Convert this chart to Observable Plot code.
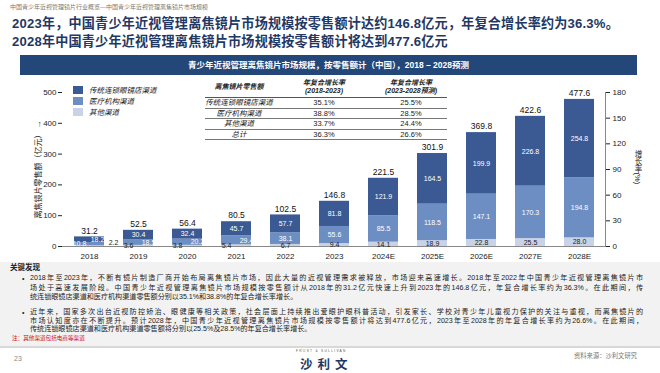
<!DOCTYPE html>
<html><head><meta charset="utf-8">
<script src="https://cdn.jsdelivr.net/npm/d3@7"></script>
<script src="https://cdn.jsdelivr.net/npm/@observablehq/plot@0.6"></script>
<style>
body{margin:0;width:660px;height:373px;position:relative;overflow:hidden;background:#fff;font-family:"Liberation Sans","Noto Sans CJK SC",sans-serif;color:#222;}
.abs{position:absolute;}
#hdr{left:10px;top:2px;font-size:6px;color:#777;white-space:nowrap;}
.title{left:12px;font-size:13.1px;font-weight:bold;color:#1f3864;white-space:nowrap;letter-spacing:0.2px;}
#banner{left:20px;top:55px;width:617px;height:20px;background:#24477a;color:#fff;font-size:8.5px;font-weight:bold;text-align:center;line-height:20px;}
#chart{left:0;top:75px;}
#legend{left:73px;top:84px;font-size:7.5px;font-style:italic;}
#legend .it{display:flex;align-items:center;height:11px;}
#legend .sw{width:10px;height:8px;margin-right:6px;}
#tbl{left:205px;top:79px;border-collapse:collapse;font-size:7.5px;}
#tbl td{padding:0;height:9.6px;line-height:9.6px;text-align:center;border-bottom:1px solid #777;}
#tbl th{padding:0;font-size:7px;font-weight:bold;font-style:italic;line-height:8px;border-bottom:1px solid #555;padding-bottom:2px;}
#tbl td.c1{font-style:italic;}
#find{left:0;top:262px;width:660px;height:84px;background:#f2f2f2;}
#kf{left:10px;top:263px;font-size:7.5px;line-height:9px;font-weight:bold;}
.bul{left:22px;font-size:7px;line-height:9px;}
.ln{position:absolute;left:30px;width:613px;font-size:7.1px;line-height:9px;text-align:justify;text-align-last:justify;}
.ln.last{text-align-last:left;}
#note{left:12px;top:334px;font-size:5.6px;color:#d0101a;}
#fline{left:0;top:346px;width:660px;height:2px;background:#d8d8d8;}
#page{left:14px;top:355px;font-size:7px;color:#888;}
#logo1{left:296px;top:349px;font-size:3.2px;letter-spacing:1.3px;color:#555;white-space:nowrap;}
#logo2{left:300px;top:354px;font-size:12.5px;font-weight:bold;color:#1f3864;letter-spacing:5px;white-space:nowrap;}
#src{left:574px;top:351px;font-size:6.3px;color:#777;white-space:nowrap;}
#rlab{left:632px;top:150px;writing-mode:vertical-rl;font-size:7.5px;}
</style></head>
<body>
<div id="hdr" class="abs">中国青少年近视管理镜片行业概览—中国青少年近视管理离焦镜片市场规模</div>
<div class="abs title" style="top:13px">2023年，中国青少年近视管理离焦镜片市场规模按零售额计达约146.8亿元，年复合增长率约为36.3%。</div>
<div class="abs title" style="top:31px">2028年中国青少年近视管理离焦镜片市场规模按零售额计将达到477.6亿元</div>
<div id="banner" class="abs">青少年近视管理离焦镜片市场规模，按零售额计（中国），2018 – 2028预测</div>
<div id="chart" class="abs"></div>
<div id="legend" class="abs"></div>
<table id="tbl" class="abs"></table>
<div id="rlab" class="abs">增长率(%)</div>
<div id="find" class="abs"></div>
<div id="kf" class="abs">关键发现</div>
<div class="abs bul" style="top:274px">•</div>
<div class="ln" style="top:274px">2018年至2023年，不断有镜片制造厂商开始布局离焦镜片市场，因此大量的近视管理需求被释放，市场迎来高速增长。2018年至2022年中国青少年近视管理离焦镜片市</div>
<div class="ln" style="top:283.5px">场处于高速发展阶段。中国青少年近视管理离焦镜片市场规模按零售额计从2018年的31.2亿元快速上升到2023年的146.8亿元，年复合增长率约为36.3%。在此期间，传</div>
<div class="ln last" style="top:292.5px">统连锁眼镜店渠道和医疗机构渠道零售额分别以35.1%和38.8%的年复合增长率增长。</div>
<div class="abs bul" style="top:308px">•</div>
<div class="ln" style="top:308px">近年来，国家多次出台近视防控矫治、眼健康等相关政策，社会层面上持续推出爱眼护眼科普活动，引发家长、学校对青少年儿童视力保护的关注与重视，而离焦镜片的</div>
<div class="ln" style="top:316.5px">市场认知度亦在不断提升。预计2028年，中国青少年近视管理离焦镜片市场规模按零售额计将达到477.6亿元，2023年至2028年的年复合增长率约为26.6%。在此期间，</div>
<div class="ln last" style="top:325px">传统连锁眼镜店渠道和医疗机构渠道零售额将分别以25.5%及28.5%的年复合增长率增长。</div>
<div id="note" class="abs">注：其他渠道包括电商等渠道</div>
<div id="fline" class="abs"></div>
<div id="page" class="abs">23</div>
<div id="logo1" class="abs">FROST &amp; SULLIVAN</div>
<div id="logo2" class="abs">沙利文</div>
<div id="src" class="abs">资料来源：沙利文研究</div>
<script>
const years = ["2018","2019","2020","2021","2022","2023","2024E","2025E","2026E","2027E","2028E"];
const chainSales = [18.2,30.4,32.4,45.7,57.7,81.8,121.9,164.5,199.9,226.8,254.8];
const medicalSales = [10.8,18.5,20.2,29.4,38.1,55.6,85.5,118.5,147.1,170.3,194.8];
const otherSales = [2.2,3.6,3.8,5.4,6.7,9.4,14.1,18.9,22.8,25.5,28.0];
const totalSales = [31.2,52.5,56.4,80.5,102.5,146.8,221.5,301.9,369.8,422.6,477.6];
const channels = ["传统连锁眼镜店渠道","医疗机构渠道","其他渠道"];
const channelColors = ["#3b5a93","#6d8ec3","#c8d3e8"];
const leftTicks = [0,100,200,300,400,500];
const rightTicks = [0,30,60,90,120,150,180];
const tableHead = ["离焦镜片零售额","年复合增长率<br>(2018-2023)","年复合增长率<br>(2023-2028预测)"];
const tableRows = ["传统连锁眼镜店渠道","医疗机构渠道","其他渠道","总计"];
const cagrHist = ["35.1%","38.8%","33.7%","36.3%"];
const cagrFcst = ["25.5%","28.5%","24.4%","26.6%"];

const rows = [];
years.forEach((year, i) => {
  let base = 0;
  [[channels[2], otherSales[i]], [channels[1], medicalSales[i]], [channels[0], chainSales[i]]].forEach(([channel, value]) => {
    rows.push({year, i, channel, value, mid: base + value / 2});
    base += value;
  });
});
const totals = years.map((year, i) => ({year, total: totalSales[i]}));
const fmt = d => d.value.toFixed(1);
const lab = (filter, opts) => Plot.text(rows, {x: "year", y: "mid", text: fmt, filter, fontSize: 7, ...opts});

const chart = Plot.plot({
  width: 660, height: 190,
  marginLeft: 62, marginRight: 55, marginTop: 17, marginBottom: 19,
  style: {fontFamily: "'Liberation Sans','Noto Sans CJK SC',sans-serif", fontSize: "8px", color: "#222", background: "transparent"},
  x: {domain: years, paddingInner: 0.39, paddingOuter: 0.23, label: null},
  y: {domain: [0, 500], label: null},
  color: {domain: channels, range: channelColors},
  marks: [
    Plot.barY(rows, {x: "year", y: "value", fill: "channel"}),
    Plot.ruleY([0], {stroke: "#888"}),
    Plot.frame({anchor: "right", stroke: "#888"}),
    Plot.axisY({anchor: "left", ticks: leftTicks, tickSize: 4, tickPadding: 2, label: "离焦镜片零售额（亿元）", labelAnchor: "center", labelOffset: 27, fontSize: 8}),
    Plot.axisY(rightTicks.map(v => v * 500 / 180), {anchor: "right", tickSize: 4, tickPadding: 3, tickFormat: v => Math.round(v * 180 / 500), label: null, fontSize: 8}),
    Plot.axisX({tickSize: 0, tickPadding: 7, label: null, fontSize: 8}),
    Plot.text(totals, {x: "year", y: "total", text: d => d.total.toFixed(1), dy: -6, fontSize: 8.5, fill: "#111"}),
    lab(d => d.channel === channels[0] && d.i >= 1, {fill: "#fff"}),
    lab(d => d.channel === channels[1] && d.i >= 4, {fill: "#fff"}),
    lab(d => d.channel === channels[2] && d.i >= 4, {fill: "#222"}),
    lab(d => d.channel === channels[1] && d.i >= 1 && d.i <= 3, {fill: "#fff", dx: 10}),
    lab(d => d.channel === channels[2] && d.i >= 1 && d.i <= 3, {fill: "#222", dx: -10}),
    lab(d => d.channel === channels[1] && d.i === 0, {fill: "#fff", dx: -10}),
    lab(d => d.channel === channels[0] && d.i === 0, {fill: "#fff", dx: 8}),
    lab(d => d.channel === channels[2] && d.i === 0, {fill: "#222", dx: 24, dy: -3})
  ]
});
document.getElementById("chart").appendChild(chart);

const legend = document.getElementById("legend");
channels.forEach((c, k) => {
  const it = document.createElement("div"); it.className = "it";
  it.innerHTML = `<span class="sw" style="background:${channelColors[k]}"></span><span>${c}</span>`;
  legend.appendChild(it);
});

const tbl = document.getElementById("tbl");
const widths = [68, 102, 72];
let html = "<tr>" + tableHead.map((h, k) => `<th style="width:${widths[k]}px;">${h}</th>`).join("") + "</tr>";
tableRows.forEach((r, k) => {
  html += `<tr><td class="c1">${r}</td><td>${cagrHist[k]}</td><td>${cagrFcst[k]}</td></tr>`;
});
tbl.innerHTML = html;
</script>
</body></html>
